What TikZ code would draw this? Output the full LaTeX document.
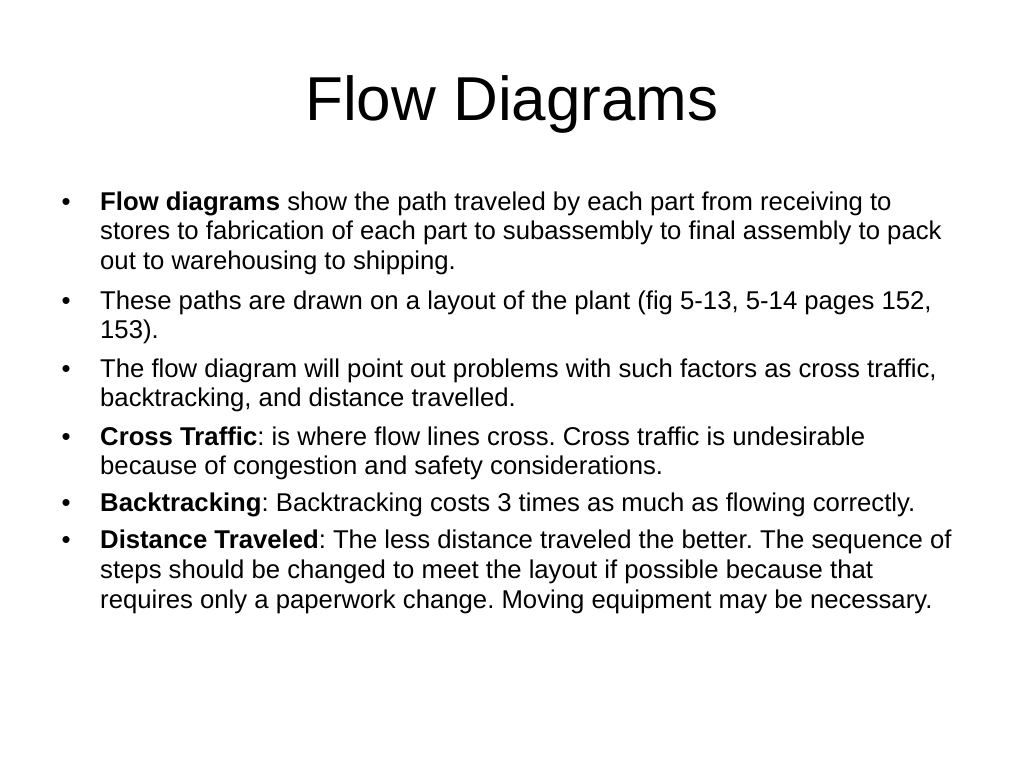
\documentclass[tikz,border=0pt]{standalone}
\usepackage{fontspec}
\setmainfont{Liberation Sans}
\frenchspacing
\begin{document}
\begin{tikzpicture}[x=1pt,y=-1pt,
  ln/.style={anchor=base west,inner sep=0pt,font=\fontsize{25.7}{29}\selectfont\frenchspacing},
  bul/.style={anchor=base,inner sep=0pt,font=\fontsize{25.7}{29}\selectfont},
  ttl/.style={anchor=base,inner sep=0pt,font=\fontsize{62}{70}\selectfont}]
\useasboundingbox (0,0) rectangle (1024,768);
\fill[white] (0,0) rectangle (1024,768);
\node[ttl] (title) at (512,120) {Flow Diagrams};
% bullet 1
\node[bul] (b1) at (66,210) {•};
\node[ln] (l1) at (100,210) {\textbf{Flow diagrams} show the path traveled by each part from receiving to};
\node[ln] (l2) at (100,239) {stores to fabrication of each part to subassembly to final assembly to pack};
\node[ln] (l3) at (100,269) {out to warehousing to shipping.};
% bullet 2
\node[bul] (b2) at (66,309) {•};
\node[ln] (l4) at (100,309) {These paths are drawn on a layout of the plant (fig 5-13, 5-14 pages 152,};
\node[ln] (l5) at (100,338) {153).};
% bullet 3
\node[bul] (b3) at (66,377) {•};
\node[ln] (l6) at (100,377) {The flow diagram will point out problems with such factors as cross traffic,};
\node[ln] (l7) at (100,406) {backtracking, and distance travelled.};
% bullet 4
\node[bul] (b4) at (66,445) {•};
\node[ln] (l8) at (100,445) {\textbf{Cross Traffic}: is where flow lines cross. Cross traffic is undesirable};
\node[ln] (l9) at (100,474) {because of congestion and safety considerations.};
% bullet 5
\node[bul] (b5) at (66,511) {•};
\node[ln] (l10) at (100,511) {\textbf{Backtracking}: Backtracking costs 3 times as much as flowing correctly.};
% bullet 6
\node[bul] (b6) at (66,548) {•};
\node[ln] (l11) at (100,548) {\textbf{Distance Traveled}: The less distance traveled the better. The sequence of};
\node[ln] (l12) at (100,578) {steps should be changed to meet the layout if possible because that};
\node[ln] (l13) at (100,608) {requires only a paperwork change. Moving equipment may be necessary.};
\end{tikzpicture}
\end{document}
